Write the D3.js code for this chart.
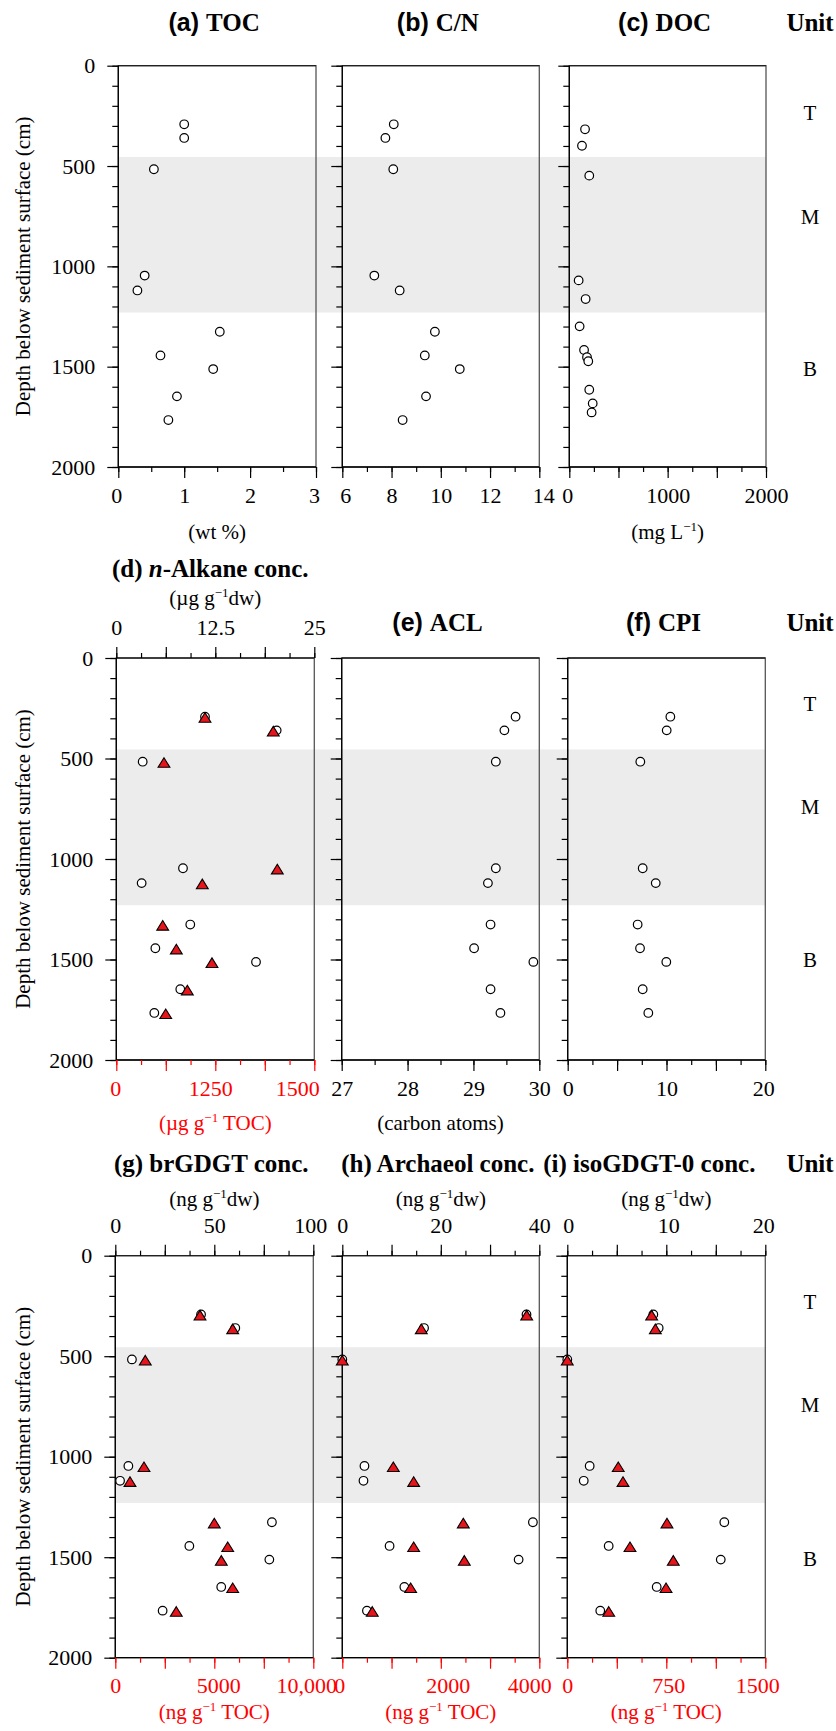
<!DOCTYPE html>
<html><head><meta charset="utf-8">
<script src="https://cdn.jsdelivr.net/npm/d3@7"></script>
<style>
body{margin:0;background:#fff;}
svg text{font-family:"Liberation Serif","Times New Roman",serif;}
</style></head><body>
<svg id="chart" width="836" height="1731"></svg>
<script>
// ---------------- DATA ----------------
const depthCm      = [292, 360, 516, 1046, 1120, 1326, 1444, 1512, 1648, 1766];
const tocWtPct     = [1.00, 1.00, 0.54, 0.40, 0.29, 1.54, 0.64, 1.44, 0.89, 0.76];
const cnRatio      = [8.09, 7.75, 8.07, 7.30, 8.33, 9.76, 9.35, 10.77, 9.40, 8.45];
const docDepthCm   = [317, 399, 548, 1070, 1163, 1299, 1417, 1453, 1473, 1615, 1683, 1728];
const docMgL       = [160, 129, 203, 95, 166, 105, 150, 180, 193, 203, 238, 227];
const alkaneDw     = [11.2, 20.25, 3.33, 8.42, 3.2, 9.34, 4.93, 17.64, 8.08, 4.80];
const alkaneToc    = [1120, 1982, 602, 2033, 1086, 586, 758, 1208, 897, 624];
const aclCarbon    = [29.64, 29.47, 29.34, 29.34, 29.22, 29.26, 29.01, 29.91, 29.26, 29.41];
const cpiValue     = [10.39, 10.02, 7.35, 7.59, 8.91, 7.08, 7.32, 9.98, 7.59, 8.16];
const brgdgtDw     = [43.3, 60.6, 8.4, 6.6, 2.4, 79.1, 37.4, 77.8, 53.5, 23.9];
const brgdgtToc    = [4278, 5929, 1515, 1449, 742, 5000, 5677, 5354, 5929, 3081];
const archaeolDw   = [37.4, 16.6, 0, 4.5, 4.3, 38.7, 9.6, 35.8, 12.6, 5.0];
const archaeolToc  = [3744, 1604, 0, 1036, 1449, 2457, 1449, 2477, 1388, 609];
const isoGdgtDw    = [8.69, 9.23, 0, 2.26, 1.66, 15.86, 4.18, 15.5, 9.03, 3.33];
const isoGdgtToc   = [639, 667, 0, 386, 422, 755, 475, 803, 748, 314];

const middleUnitCm = [455, 1230];
const unitNames    = ["T", "M", "B"];

const depthTickValues = [0, 500, 1000, 1500, 2000];
const depthTickLabels = ["0", "500", "1000", "1500", "2000"];
const tocTicks   = [0, 1, 2, 3],            tocLabels   = ["0", "1", "2", "3"];
const cnTicks    = [6, 8, 10, 12, 14],      cnLabels    = ["6", "8", "10", "12", "14"];
const docTicks   = [0, 1000, 2000],         docLabels   = ["0", "1000", "2000"];
const alkDwTicks = [0, 12.5, 25],           alkDwLabels = ["0", "12.5", "25"];
const alkTocTicks= [0, 1250, 2500],         alkTocLabels= ["0", "1250", "1500"];
const aclTicks   = [27, 28, 29, 30],        aclLabels   = ["27", "28", "29", "30"];
const cpiTicks   = [0, 10, 20],             cpiLabels   = ["0", "10", "20"];
const brDwTicks  = [0, 50, 100],            brDwLabels  = ["0", "50", "100"];
const brTocTicks = [0, 5000, 10000],        brTocLabels = ["0", "5000", "10,000"];
const arDwTicks  = [0, 20, 40],             arDwLabels  = ["0", "20", "40"];
const arTocTicks = [0, 2000, 4000],         arTocLabels = ["0", "2000", "4000"];
const isoDwTicks = [0, 10, 20],             isoDwLabels = ["0", "10", "20"];
const isoTocTicks= [0, 750, 1500],          isoTocLabels= ["0", "750", "1500"];

// ---------------- LAYOUT / STYLE ----------------
const SERIF = "'Liberation Serif','Times New Roman',serif";
const SANS  = "'Liberation Sans',Arial,sans-serif";
const RED = "#ff0000";
const TRI_FILL = "#e8141b";
const BAND = "#ececec";
const FS = 21, TKFS = 22, TFS = 25;

const rows = [
  {top: 65.7,   bottom: 467,    xs: [[118.3,316],[342.3,539.3],[569.3,766]],     titleY: 30.5,   unitY:[113,217,369]},
  {top: 658,    bottom: 1060,   xs: [[116.3,314.3],[341.7,539.3],[567.7,765.3]], titleY: 630.5,  unitY:[704,806.7,960]},
  {top: 1255.7, bottom: 1657.7, xs: [[115.3,313.3],[342.3,539.3],[567.3,765.3]], titleY: 1171.7, unitY:[1301.7,1405,1558.3]}
];

const sup = "\u22121";
const panels = [
  {row:0,col:0, title:[{t:"(a) ",f:SANS},{t:"TOC"}],
   bottom:{domain:[0,3],ticks:tocTicks,labels:tocLabels,major:1,minor:0.5,dx:[-2,0,0,-2],title:[{t:"(wt %)"}]},
   series:[{type:"circle",axis:"bottom",x:tocWtPct,d:depthCm}]},
  {row:0,col:1, title:[{t:"(b) ",f:SANS},{t:"C/N"}],
   bottom:{domain:[6,14],ticks:cnTicks,labels:cnLabels,major:2,minor:1,dx:[3,0,0,0,4]},
   series:[{type:"circle",axis:"bottom",x:cnRatio,d:depthCm}]},
  {row:0,col:2, title:[{t:"(c) ",f:SANS},{t:"DOC"}],
   bottom:{domain:[0,2000],ticks:docTicks,labels:docLabels,major:500,minor:250,dx:[-2,0,0],title:[{t:"(mg L"},{t:sup,sup:true},{t:")"}]},
   series:[{type:"circle",axis:"bottom",x:docMgL,d:docDepthCm}]},

  {row:1,col:0, title:[{t:"(d) "},{t:"n",it:true},{t:"-Alkane conc."}], titleY:576.7, titleDx:-2,
   top:{domain:[0,25],ticks:alkDwTicks,labels:alkDwLabels,major:6.25,minor:3.125,title:[{t:"(\u00b5g g"},{t:sup,sup:true},{t:"dw)"}],titleDy:-60},
   bottom:{domain:[0,2500],ticks:alkTocTicks,labels:alkTocLabels,major:625,minor:312.5,color:RED,dx:[-1,-5,-17],title:[{t:"(\u00b5g g"},{t:sup,sup:true},{t:" TOC)"}],titleDy:63},
   series:[{type:"circle",axis:"top",x:alkaneDw,d:depthCm},{type:"tri",axis:"bottom",x:alkaneToc,d:depthCm}]},
  {row:1,col:1, title:[{t:"(e) ",f:SANS},{t:"ACL"}],
   bottom:{domain:[27,30],ticks:aclTicks,labels:aclLabels,major:1,minor:0.5,title:[{t:"(carbon atoms)"}],titleDy:63},
   series:[{type:"circle",axis:"bottom",x:aclCarbon,d:depthCm}]},
  {row:1,col:2, title:[{t:"(f) ",f:SANS},{t:"CPI"}],
   bottom:{domain:[0,20],ticks:cpiTicks,labels:cpiLabels,major:5,minor:2.5,dx:[0,0,-2]},
   series:[{type:"circle",axis:"bottom",x:cpiValue,d:depthCm}]},

  {row:2,col:0, title:[{t:"(g) brGDGT conc."}],
   top:{domain:[0,100],ticks:brDwTicks,labels:brDwLabels,major:25,minor:12.5,dx:[0,0,-3],title:[{t:"(ng g"},{t:sup,sup:true},{t:"dw)"}],titleDy:-57},
   bottom:{domain:[0,10000],ticks:brTocTicks,labels:brTocLabels,major:2500,minor:1250,color:RED,dx:[0,4,-7],title:[{t:"(ng g"},{t:sup,sup:true},{t:" TOC)"}],titleDy:54},
   series:[{type:"circle",axis:"top",x:brgdgtDw,d:depthCm},{type:"tri",axis:"bottom",x:brgdgtToc,d:depthCm}]},
  {row:2,col:1, title:[{t:"(h) Archaeol conc."}],
   top:{domain:[0,40],ticks:arDwTicks,labels:arDwLabels,major:10,minor:5,title:[{t:"(ng g"},{t:sup,sup:true},{t:"dw)"}],titleDy:-57},
   bottom:{domain:[0,4000],ticks:arTocTicks,labels:arTocLabels,major:1000,minor:500,color:RED,dx:[-3,7,-10],title:[{t:"(ng g"},{t:sup,sup:true},{t:" TOC)"}],titleDy:54},
   series:[{type:"circle",axis:"top",x:archaeolDw,d:depthCm},{type:"tri",axis:"bottom",x:archaeolToc,d:depthCm}]},
  {row:2,col:2, title:[{t:"(i) isoGDGT-0 conc."}], titleDx:-14,
   top:{domain:[0,20],ticks:isoDwTicks,labels:isoDwLabels,major:5,minor:2.5,dx:[1,2,-2],title:[{t:"(ng g"},{t:sup,sup:true},{t:"dw)"}],titleDy:-57},
   bottom:{domain:[0,1500],ticks:isoTocTicks,labels:isoTocLabels,major:375,minor:187.5,color:RED,dx:[0,2,-8],title:[{t:"(ng g"},{t:sup,sup:true},{t:" TOC)"}],titleDy:54},
   series:[{type:"circle",axis:"top",x:isoGdgtDw,d:depthCm},{type:"tri",axis:"bottom",x:isoGdgtToc,d:depthCm}]}
];

// ---------------- DRAW ----------------
const svg = d3.select("#chart");
svg.append("rect").attr("width",836).attr("height",1731).attr("fill","#fff");

function richText(sel, parts, size, bold){
  let prevSup = false;
  parts.forEach(p=>{
    const ts = sel.append("tspan").text(p.t)
      .attr("font-family", p.f || SERIF)
      .attr("font-weight", bold ? "bold" : "normal");
    if (p.it) ts.attr("font-style","italic");
    if (p.sup) ts.attr("font-size", Math.round(size*0.6)).attr("dy", -size*0.38);
    else if (prevSup) ts.attr("dy", size*0.38);
    prevSup = !!p.sup;
  });
  return sel;
}

const yScales = rows.map(r => d3.scaleLinear().domain([0,2000]).range([r.top, r.bottom]));

// unit M bands
rows.forEach((r,i)=>{
  const y = yScales[i];
  svg.append("rect")
    .attr("x", r.xs[0][0]).attr("width", r.xs[2][1]-r.xs[0][0])
    .attr("y", y(middleUnitCm[0])).attr("height", y(middleUnitCm[1]) - y(middleUnitCm[0]))
    .attr("fill", BAND);
});

function xAxis(g, scale, y, orient, spec){
  const mk = orient === "top" ? d3.axisTop : d3.axisBottom;
  const color = spec.color || "#000";
  const [d0,d1] = spec.domain;
  const minorVals = d3.range(d0, d1 + spec.minor/2, spec.minor);
  const majorVals = d3.range(d0, d1 + spec.major/2, spec.major);
  const clean = s => { s.select(".domain").remove(); s.selectAll("line").attr("stroke-width",1.2); };
  g.append("g").attr("transform",`translate(0,${y})`).attr("color",color)
    .call(mk(scale).tickValues(minorVals).tickSize(5).tickFormat("")).call(clean);
  g.append("g").attr("transform",`translate(0,${y})`).attr("color",color)
    .call(mk(scale).tickValues(majorVals).tickSize(11).tickFormat("")).call(clean);
  const lg = g.append("g").attr("transform",`translate(0,${y})`).attr("color",color)
    .call(mk(scale).tickValues(spec.ticks).tickSize(11).tickPadding(orient==="top"?12:9)
      .tickFormat((d,i)=>spec.labels[i]));
  lg.select(".domain").remove();
  lg.selectAll("line").remove();
  lg.attr("font-size",TKFS).attr("font-family",SERIF);
  lg.selectAll(".tick text").attr("fill",color).attr("dx",(d,i)=> (spec.dx ? spec.dx[i] : 0));
}

panels.forEach(p=>{
  const r = rows[p.row];
  const yS = yScales[p.row];
  const [x0,x1] = r.xs[p.col];
  const g = svg.append("g");
  const xB = d3.scaleLinear().domain(p.bottom.domain).range([x0,x1]);
  const xT = p.top ? d3.scaleLinear().domain(p.top.domain).range([x0,x1]) : null;

  // frame
  g.append("rect").attr("x",x0).attr("y",r.top).attr("width",x1-x0).attr("height",r.bottom-r.top)
    .attr("fill","none").attr("stroke","#555").attr("stroke-width",1.3);
  g.append("line").attr("x1",x0).attr("x2",x1).attr("y1",r.top).attr("y2",r.top).attr("stroke","#222").attr("stroke-width",1.3);
  g.append("line").attr("x1",x0).attr("x2",x1).attr("y1",r.bottom).attr("y2",r.bottom).attr("stroke","#000").attr("stroke-width",1.3);
  g.append("line").attr("x1",x0).attr("x2",x0).attr("y1",r.top).attr("y2",r.bottom).attr("stroke","#000").attr("stroke-width",1.3);

  // y axis
  const cleanY = s => { s.select(".domain").remove(); s.selectAll("line").attr("stroke-width",1.2); };
  g.append("g").attr("transform",`translate(${x0},0)`)
    .call(d3.axisLeft(yS).tickValues(d3.range(0,2001,100)).tickSize(6).tickFormat("")).call(cleanY);
  g.append("g").attr("transform",`translate(${x0},0)`)
    .call(d3.axisLeft(yS).tickValues(depthTickValues).tickSize(11).tickFormat("")).call(cleanY);
  if (p.col === 0){
    const yl = g.append("g").attr("transform",`translate(${x0},0)`)
      .call(d3.axisLeft(yS).tickValues(depthTickValues).tickSize(11).tickPadding(12)
        .tickFormat((d,i)=>depthTickLabels[i]));
    yl.select(".domain").remove(); yl.selectAll("line").remove();
    yl.attr("font-size",TKFS).attr("font-family",SERIF);
    yl.selectAll(".tick text").attr("fill","#000");
    svg.append("text")
      .attr("transform",`translate(23,${(r.top+r.bottom)/2}) rotate(-90)`)
      .attr("text-anchor","middle").attr("dy","0.35em")
      .attr("font-size",FS).attr("font-family",SERIF)
      .text("Depth below sediment surface (cm)");
  }

  // x axes
  xAxis(g, xB, r.bottom, "bottom", p.bottom);
  if (p.top) xAxis(g, xT, r.top, "top", p.top);

  // axis titles
  const cx = (x0+x1)/2;
  if (p.bottom.title){
    const t = svg.append("text").attr("x",cx).attr("y",r.bottom + (p.bottom.titleDy || 65))
      .attr("text-anchor","middle").attr("dy","0.35em").attr("font-size",FS)
      .attr("fill",p.bottom.color || "#000");
    richText(t, p.bottom.title, FS, false);
  }
  if (p.top && p.top.title){
    const t = svg.append("text").attr("x",cx).attr("y",r.top + p.top.titleDy)
      .attr("text-anchor","middle").attr("dy","0.35em").attr("font-size",FS).attr("fill","#000");
    richText(t, p.top.title, FS, false);
  }

  // panel title
  const tt = svg.append("text").attr("x",cx + (p.titleDx||0) - 3).attr("y", p.titleY || r.titleY)
    .attr("text-anchor","middle").attr("font-size",TFS).attr("fill","#000");
  richText(tt, p.title, TFS, true);

  // markers: circles first, triangles on top
  const order = p.series.slice().sort((a,b)=> (a.type==="tri") - (b.type==="tri"));
  order.forEach(s=>{
    const xs = s.axis === "top" ? xT : xB;
    const pts = s.x.map((v,i)=>({v, d:s.d[i]}));
    if (s.type === "circle"){
      g.selectAll(null).data(pts).enter().append("circle")
        .attr("cx",q=>xs(q.v)).attr("cy",q=>yS(q.d)).attr("r",4.3)
        .attr("fill","#fff").attr("stroke","#000").attr("stroke-width",1.2);
    } else {
      g.selectAll(null).data(pts).enter().append("path")
        .attr("transform",q=>`translate(${xs(q.v)},${yS(q.d)})`)
        .attr("d","M0,-4 L5.9,5.6 L-5.9,5.6 Z")
        .attr("fill",TRI_FILL).attr("stroke","#000").attr("stroke-width",1.1);
    }
  });
});

// Unit column
rows.forEach((r,i)=>{
  svg.append("text").attr("x",810).attr("y", r.titleY)
    .attr("text-anchor","middle").attr("font-size",TFS).attr("font-weight","bold")
    .attr("font-family",SERIF).text("Unit");
  unitNames.forEach((u,j)=>{
    svg.append("text").attr("x",810).attr("y",r.unitY[j]).attr("dy","0.35em")
      .attr("text-anchor","middle").attr("font-size",FS).attr("font-family",SERIF).text(u);
  });
});
</script>
</body></html>
